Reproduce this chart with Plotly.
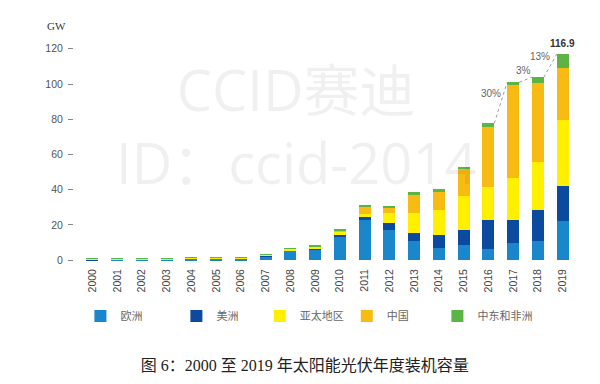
import plotly.graph_objects as go

years = list(range(2000, 2020))
europe   = [0.1, 0.15, 0.2, 0.25, 0.7, 1.0, 1.1, 2.2, 5.3, 6.0, 13.2, 23.0, 17.4, 10.8, 7.2, 8.9, 6.6, 9.5, 10.8, 22.2]
americas = [0.05, 0.05, 0.05, 0.05, 0.1, 0.1, 0.15, 0.3, 0.4, 0.6, 1.4, 1.6, 3.8, 4.7, 7.4, 8.1, 16.5, 13.2, 17.6, 20.0]
apac     = [0.6, 0.55, 0.6, 0.6, 0.5, 0.4, 0.4, 0.6, 0.8, 1.1, 1.5, 1.9, 5.7, 11.4, 13.8, 19.5, 18.5, 23.7, 27.5, 37.3]
china    = [0.05, 0.05, 0.05, 0.05, 0.05, 0.05, 0.05, 0.1, 0.1, 0.2, 0.8, 3.8, 2.8, 10.6, 10.4, 15.0, 34.1, 53.0, 44.5, 29.8]
mea      = [0.1, 0.1, 0.1, 0.1, 0.1, 0.1, 0.1, 0.3, 0.3, 0.6, 0.7, 0.9, 1.0, 1.0, 1.4, 1.2, 2.0, 1.6, 3.4, 7.6]

series_names = ["欧洲", "美洲", "亚太地区", "中国", "中东和非洲"]
series_values = [europe, americas, apac, china, mea]
series_colors = ["#1a86cc", "#0b4a9e", "#fff000", "#f8bb14", "#5cb444"]

y_ticks = [0, 20, 40, 60, 80, 100, 120]
growth_years = [2016, 2017, 2018]
title_text = "图 6：2000 至 2019 年太阳能光伏年度装机容量"
watermark_text = "CCID赛迪<br>ID：ccid-2014"

BAR_W = 0.48
totals = [sum(v) for v in zip(*series_values)]

legend_ids = ["legend", "legend2", "legend3", "legend4", "legend5"]
legend_x = [0.134, 0.294, 0.433, 0.578, 0.729]

fig = go.Figure()
for name, vals, col, lid in zip(series_names, series_values, series_colors, legend_ids):
    fig.add_trace(go.Bar(x=years, y=vals, name=name, marker=dict(color=col, line=dict(width=0)),
                         width=BAR_W, legend=lid))

# connector lines and growth labels
for y0 in growth_years:
    i = years.index(y0)
    t0, t1 = totals[i], totals[i + 1]
    fig.add_trace(go.Scatter(x=[y0 + BAR_W / 2, y0 + 1 - BAR_W / 2], y=[t0, t1], mode="lines",
                             line=dict(color="#9a9a9a", width=1, dash="dot"),
                             showlegend=False, hoverinfo="skip"))
    pct = round((t1 / t0 - 1) * 100)
    fig.add_annotation(x=y0 + 0.5, y=(t0 + t1) / 2, text=f"{pct}%", showarrow=False,
                       xanchor="right" if t1 - t0 > 5 else "center",
                       xshift=2 if t1 - t0 > 5 else -2, yshift=9,
                       font=dict(family="Liberation Sans, Arial", size=10, color="#666"))

fig.add_annotation(x=years[-1], y=totals[-1], text=f"<b>{totals[-1]:.1f}</b>", showarrow=False,
                   yanchor="bottom", yshift=3,
                   font=dict(family="Liberation Sans, Arial", size=10, color="#333"))

# watermark
fig.add_annotation(xref="paper", yref="paper", x=0.444, y=0.60, text=watermark_text, showarrow=False,
                   align="center",
                   font=dict(family="Open Sans, Noto Sans CJK SC", size=56, color="rgba(0,0,0,0.06)"))

# GW unit label
fig.add_annotation(xref="paper", yref="paper", x=-0.033, y=1.04, text="GW", showarrow=False,
                   xanchor="center", yanchor="middle",
                   font=dict(family="Liberation Serif, Times New Roman", size=11, color="#333"))

legend_style = dict(orientation="h", xref="container", yref="container", y=0.177,
                    xanchor="left", yanchor="middle",
                    font=dict(family="Noto Sans CJK SC", size=11, color="#666"),
                    itemwidth=30, bgcolor="rgba(0,0,0,0)")
legends = {lid: dict(legend_style, x=lx) for lid, lx in zip(legend_ids, legend_x)}

fig.update_layout(
    width=600, height=384,
    margin=dict(l=73, r=25, t=35, b=122, autoexpand=False),
    paper_bgcolor="white", plot_bgcolor="white",
    barmode="stack",
    showlegend=True,
    title=dict(text=title_text, xref="container", yref="container", x=0.508, y=0.048,
               xanchor="center", yanchor="middle",
               font=dict(family="Liberation Serif, Noto Sans CJK SC", size=16, color="#222")),
    xaxis=dict(domain=[7 / 502, 1], range=[1999.5, 2019.5], tickmode="array", tickvals=years,
               ticktext=[str(y) for y in years], tickangle=-90, ticks="", showgrid=False,
               zeroline=False, showline=False, ticklabelstandoff=4,
               tickfont=dict(family="Liberation Sans, Arial", size=10.5, color="#444")),
    yaxis=dict(range=[-1, 127.8], tickmode="array", tickvals=y_ticks, ticks="outside", ticklen=5,
               tickcolor="#888", tickwidth=1, showgrid=False, zeroline=False, showline=False,
               anchor="free", position=0, ticklabelstandoff=3,
               tickfont=dict(family="Liberation Sans, Arial", size=10.5, color="#555")),
    **legends,
)

fig.write_html("out.html", config={"displayModeBar": False},
               post_script="document.body.style.margin='0';")
